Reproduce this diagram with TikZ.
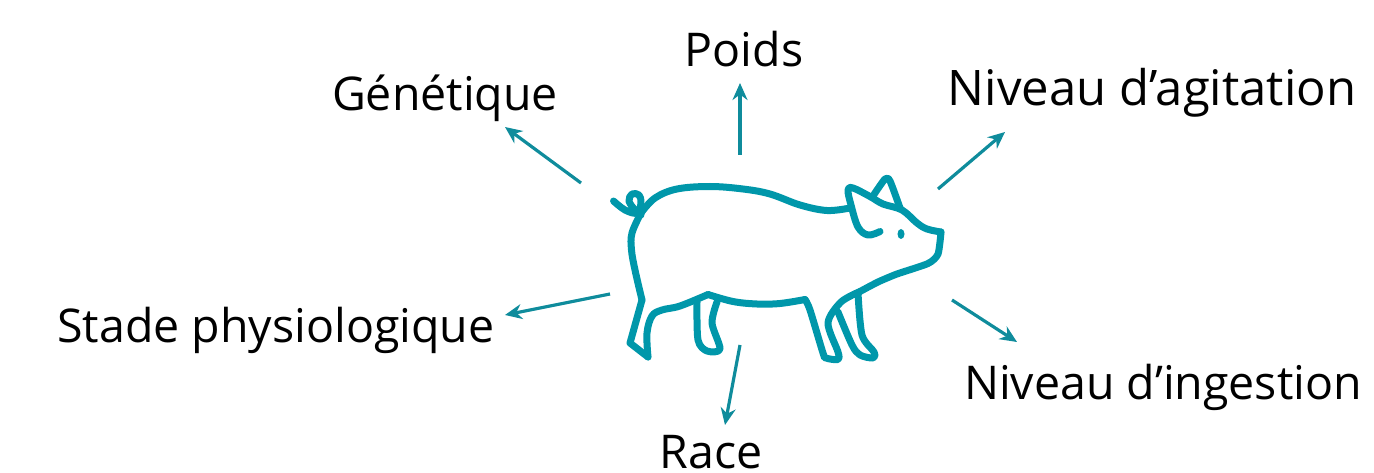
\documentclass[tikz,border=0pt]{standalone}
\usepackage{fontspec}
\setmainfont{Open Sans}
\usepackage{tikz}
\usetikzlibrary{arrows.meta}
\definecolor{PigTeal}{RGB}{0,151,170}
\definecolor{ArrowTeal}{RGB}{15,140,156}

\begin{document}
\begin{tikzpicture}[
      x=1pt, y=-1pt,
      every node/.style={font=\fontsize{46.5}{50}\selectfont, text=black, inner sep=0pt, anchor=base},
      widelabel/.style={font=\fontsize{49}{50}\selectfont},
      pigline/.style={draw=PigTeal, line width=7pt, line join=round, line cap=round},
      arr/.style={-{Stealth[length=17pt,width=15pt]}, draw=ArrowTeal, line width=3.2pt}
  ]
    \useasboundingbox (0,0) rectangle (1374,473);
    % labels
    \node (genetique) at (445,111) {Génétique};
    \node (poids) at (744,67) {Poids};
    \node[widelabel] (agitation) at (1152,106) {Niveau d’agitation};
    \node (stade) at (276,342) {Stade physiologique};
    \node (ingestion) at (1163,399) {Niveau d’ingestion};
    \node (race) at (711,468) {Race};
    % pig outline
    \draw[pigline] plot[smooth, tension=0.6] coordinates {(613.5,201) (625,210) (637,213) (641,203) (639,195) (632,194) (629,201) (635,210) (641,215)};
    \draw[pigline] plot[smooth, tension=0.6] coordinates {(641,213) (655,198) (677,189) (710,186.5) (743,189) (770,194) (800,205) (827,210.5) (850,208)};
    \draw[pigline] plot[smooth, tension=0.6] coordinates {(641,213) (632,233) (631.5,250) (635,270) (642,300)};
    \draw[pigline] (642,300) -- (630,343) -- (648,357);
    \draw[pigline] plot[smooth, tension=0.6] coordinates {(648,357) (647,333) (652,316) (662,310) (680,306) (708,294.5)};
    \draw[pigline] plot[smooth, tension=0.6] coordinates {(708,294.5) (733,301.5) (757,304) (780,303.5) (805,299.5)};
    \draw[pigline] plot[smooth, tension=0.5] coordinates {(805,299.5) (810,310) (823,353) (826,358) (838,359.5) (838,352) (828,323) (841,302) (860,291.5)};
    \draw[pigline] plot[smooth, tension=0.4] coordinates {(860,291.5) (878,282) (897,274) (928,263.5) (938,254) (941,232)};
    \draw[pigline] plot[smooth, tension=0.6] coordinates {(941,232) (927,229) (917,223) (902,210) (883,204) (870,196.5) (853,188) (848,190) (851,205) (858,227) (868,235) (880,231.5)};
    \draw[pigline] plot[smooth, tension=0.4] coordinates {(873,196) (885,179) (890,181) (900,208)};
    \fill[PigTeal] (901,234) ellipse (3.5 and 5);
    \draw[pigline] plot[smooth, tension=0.5] coordinates {(697,302) (698,340) (707,351) (720,349) (712,323) (717,302)};
    \draw[pigline] plot[smooth, tension=0.5] coordinates {(838,312) (852,345) (860,355) (873,358) (874,352) (862,335) (858,293)};
    % arrow ends
    \coordinate (a1) at (581,183); \coordinate (b1) at (505,127);
    \coordinate (a2) at (740,155); \coordinate (b2) at (740,83);
    \coordinate (a3) at (938,189); \coordinate (b3) at (1005,132);
    \coordinate (a4) at (610,294); \coordinate (b4) at (505,315);
    \coordinate (a5) at (740,345); \coordinate (b5) at (725,425);
    \coordinate (a6) at (952,300); \coordinate (b6) at (1017,342);
    \foreach \i in {1,...,6}
      \draw[arr] (a\i) -- (b\i);
  \end{tikzpicture}
\end{document}
